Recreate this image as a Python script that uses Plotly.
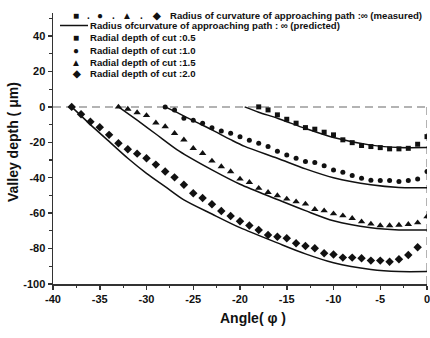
import plotly.graph_objects as go

# ---------------- data ----------------
angle_05 = list(range(-18, 1))
depth_05 = [0, -1.7, -4.5, -7.0, -9.2, -11.7, -12.6, -14.3, -15.8, -18.6,
            -20.2, -21.8, -22.4, -23.0, -23.7, -23.7, -23.4, -21.1, -16.8]

angle_10 = list(range(-28, 1))
depth_10 = [0, -1.7, -6.4, -7.5, -9.2, -11.8, -13.6, -14.9, -16.8, -18.8,
            -20.5, -22.4, -25.0, -27.1, -29.0, -30.9, -31.4, -33.3, -35.6, -36.9,
            -38.8, -40.3, -41.4, -41.6, -41.6, -42.2, -41.6, -40.7, -36.5]

angle_15 = list(range(-33, 1))
depth_15 = [0, -1.2, -3.2, -4.8, -9.0, -11.1, -14.9, -18.6, -23.4, -26.2,
            -30.5, -33.7, -36.5, -40.7, -42.6, -45.9, -48.2, -50.1, -52.0, -53.5,
            -54.8, -57.8, -58.6, -60.3, -61.4, -62.9, -64.8, -66.1, -67.0, -67.0,
            -66.7, -66.3, -65.4, -62.0]

angle_20 = list(range(-38, 0))
depth_20 = [0, -4.2, -8.4, -11.5, -15.8, -20.5, -23.9, -26.4, -29.0, -32.6,
            -36.5, -39.8, -44.0, -48.8, -51.4, -55.0, -58.8, -61.6, -64.6, -67.0,
            -69.5, -72.3, -73.3, -74.2, -77.0, -78.5, -79.8, -82.6, -83.3, -85.1,
            -85.1, -85.5, -86.8, -86.8, -87.4, -86.0, -83.6, -79.3]

pred_05_x = [-19.5, -18, -16, -13, -10, -6, -3, 0]
pred_05_y = [0, -3.0, -6.4, -12.2, -17.3, -21.6, -23.0, -23.0]
pred_10_x = [-28, -26.5, -25, -23, -21, -19.5, -16, -13, -10, -6, -3, 0]
pred_10_y = [0, -3.8, -7.8, -13.0, -18.5, -22.3, -29.0, -35.0, -40.0, -44.0, -45.5, -45.6]
pred_15_x = [-33, -31, -29, -26.5, -23, -20, -16, -13, -10, -6, -3, 0]
pred_15_y = [0, -7.5, -15.3, -25.0, -35.6, -43.7, -52.3, -58.6, -64.3, -68.3, -69.5, -69.5]
pred_20_x = [-38, -36, -34, -32, -30, -28, -26, -23, -20, -16, -13, -10, -6, -3, 0]
pred_20_y = [0, -10.0, -19.5, -29.0, -37.5, -45.0, -52.5, -60.5, -68.2, -76.8, -83.0, -88.0, -91.8, -93.0, -93.0]

x_ticks = [-40, -35, -30, -25, -20, -15, -10, -5, 0]
y_ticks = [-100, -80, -60, -40, -20, 0, 20, 40]

legend_measured = "Radius of curvature of approaching path :\u221e (measured)"
legend_predicted = "Radius ofcurvature of approaching path : \u221e (predicted)"
series_names = ["Radial depth of cut :0.5", "Radial depth of cut :1.0",
                "Radial depth of cut :1.5", "Radial depth of cut :2.0"]
series_glyphs = ["\u25a0", "\u25cf", "\u25b2", "\u25c6"]

# ---------------- styles ----------------
INK = "#111111"
FONT = "Liberation Sans, Arial, sans-serif"
symbols = ["square", "circle", "triangle-up", "diamond"]
sizes = [5, 5, 6.5, 6.5]

fig = go.Figure()

measured = [(angle_05, depth_05), (angle_10, depth_10), (angle_15, depth_15), (angle_20, depth_20)]
predicted = [(pred_05_x, pred_05_y), (pred_10_x, pred_10_y), (pred_15_x, pred_15_y), (pred_20_x, pred_20_y)]

for (px_, py_) in predicted:
    fig.add_trace(go.Scatter(x=px_, y=py_, mode="lines", line=dict(color=INK, width=1.5, shape="spline", smoothing=0.8),
                             showlegend=False, hoverinfo="skip"))
for i, (mx, my) in enumerate(measured):
    fig.add_trace(go.Scatter(x=mx, y=my, mode="markers",
                             marker=dict(symbol=symbols[i], size=sizes[i], color=INK, line=dict(width=0)),
                             showlegend=False, name=series_names[i]))

# plot area in window pixels
L, R, T, B = 53, 427, 13, 284
W, H = 430, 338

def pap(x, y):
    return (x - L) / (R - L), (B - y) / (B - T)

annotations = []
shapes = []

def add_text(px, py, text, size=9.6, anchor="left"):
    x, y = pap(px, py)
    annotations.append(dict(x=x, y=y, xref="paper", yref="paper", text=text, showarrow=False,
                            xanchor=anchor, yanchor="middle", font=dict(family=FONT, size=size, color=INK, weight="bold")))

# legend row 1 (measured, all glyphs)
row1_y = 15
row1_glyph_x = [76, 88, 100, 113, 127, 141, 156]
row1_glyphs = [series_glyphs[0], ".", series_glyphs[1], ".", series_glyphs[2], ".", series_glyphs[3]]
for gx, g in zip(row1_glyph_x, row1_glyphs):
    add_text(gx, row1_y, g, size=10, anchor="center")
add_text(168, row1_y, legend_measured)

# legend row 2 (predicted)
row2_y = 25.5
x0, y0 = pap(60, row2_y)
x1, _ = pap(88, row2_y)
shapes.append(dict(type="line", xref="paper", yref="paper", x0=x0, x1=x1, y0=y0, y1=y0,
                   line=dict(color=INK, width=1.5)))
add_text(88, row2_y, legend_predicted)

# legend rows 3-6
rows_y = [38, 50, 62, 74]
for ry, g, n in zip(rows_y, series_glyphs, series_names):
    add_text(76, ry, g, size=10, anchor="center")
    add_text(88, ry, n)

# axis titles
ax, ay = pap(253, 318)
annotations.append(dict(x=ax, y=ay, xref="paper", yref="paper", text="Angle( \u03c6 )", showarrow=False,
                        xanchor="center", yanchor="middle", font=dict(family=FONT, size=14, color=INK, weight="bold")))
tx, ty = pap(13, 142)
annotations.append(dict(x=tx, y=ty, xref="paper", yref="paper", text="Valley depth ( \u03bcm)", showarrow=False,
                        textangle=-90, xanchor="center", yanchor="middle",
                        font=dict(family=FONT, size=14, color=INK, weight="bold")))

# dashed zero lines
shapes.append(dict(type="line", xref="x", yref="y", x0=-40, x1=0, y0=0, y1=0,
                   line=dict(color="#9a9a9a", width=1.5, dash="8px,5px"), layer="below"))
shapes.append(dict(type="line", xref="x", yref="y", x0=0, x1=0, y0=-100, y1=0,
                   line=dict(color="#9a9a9a", width=1.5, dash="8px,5px"), layer="below"))

fig.update_layout(
    width=W, height=H,
    margin=dict(l=L, r=W - R, t=T, b=H - B, pad=0, autoexpand=False),
    paper_bgcolor="white", plot_bgcolor="white",
    showlegend=False, hovermode=False,
    annotations=annotations, shapes=shapes,
    xaxis=dict(range=[-40, 0], tickvals=x_ticks, ticktext=[str(v) for v in x_ticks],
               automargin=False, ticklabeloverflow="allow",
               ticks="outside", ticklen=4, tickwidth=1.5, tickcolor="#333",
               showline=True, linecolor="#333", linewidth=1.5, mirror=False,
               showgrid=False, zeroline=False,
               tickfont=dict(family=FONT, size=11, color=INK, weight="bold"),
               minor=dict(dtick=2.5, tick0=0, ticks="outside", ticklen=2.5, tickwidth=1.2, tickcolor="#333")),
    yaxis=dict(range=[-100, 53], tickvals=y_ticks, ticktext=[str(v) for v in y_ticks],
               automargin=False, ticklabeloverflow="allow",
               ticks="outside", ticklen=4, tickwidth=1.5, tickcolor="#333",
               showline=True, linecolor="#333", linewidth=1.5, mirror=False,
               showgrid=False, zeroline=False,
               tickfont=dict(family=FONT, size=11, color=INK, weight="bold"),
               minor=dict(dtick=10, tick0=0, ticks="outside", ticklen=2.5, tickwidth=1.2, tickcolor="#333")),
)

fig.write_html("out.html", config={"displayModeBar": False, "staticPlot": True},
               post_script="document.body.style.margin='0';document.documentElement.style.overflow='hidden';")
